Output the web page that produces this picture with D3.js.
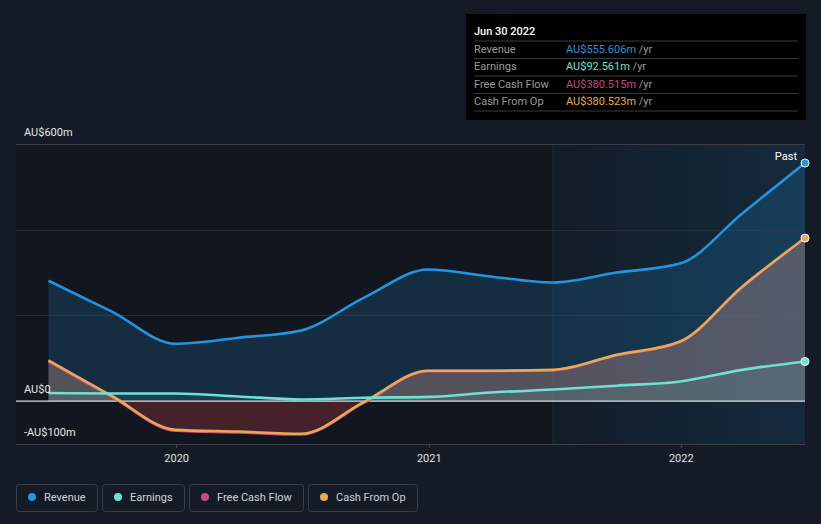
<!DOCTYPE html>
<html><head><meta charset="utf-8">
<script src="https://cdn.jsdelivr.net/npm/d3@7"></script>
<style>
html,body{margin:0;padding:0;background:#151b26;}
svg{display:block;font-family:Roboto,"Open Sans",sans-serif;}
</style></head>
<body>
<svg id="c" width="821" height="524"></svg>
<script>
const dates = ["2019-06-30","2019-09-30","2019-12-31","2020-03-31","2020-06-30","2020-09-30","2020-12-31","2021-03-31","2021-06-30","2021-09-30","2021-12-31","2022-03-31","2022-06-30"];
const revenue = [281, 209, 134, 148, 165, 242, 307, 291, 277, 300, 321, 438, 555.606];
const earnings = [19, 18, 18, 11, 4, 8, 10, 20, 27, 36, 46, 73, 92.561];
const freeCashFlow = [93, 10, -69, -73, -78, -3, 70, 70, 72, 107, 138, 266, 380.515];
const cashFromOp = [95, 12, -67, -71, -76, -1, 71, 71, 73, 108, 139, 267, 380.523];
const yTicks = [-100, 0, 200, 400, 600];
const yLabels = {"-100":"-AU$100m","0":"AU$0","600":"AU$600m"};
const xTicks = ["2020-01-01","2021-01-01","2022-01-01"];
const xTickLabels = ["2020","2021","2022"];
const seriesNames = ["Revenue","Earnings","Free Cash Flow","Cash From Op"];
const seriesColors = ["#2394df","#6fe1d2","#c8498a","#e9a856"];
const tooltipDate = "Jun 30 2022";
const tooltipValues = ["AU$555.606m","AU$92.561m","AU$380.515m","AU$380.523m"];
const highlightStart = "2021-06-30";

const parse = d3.timeParse("%Y-%m-%d");
const D = dates.map(parse);
const svg = d3.select("#c");
const x = d3.scaleTime().domain([new Date(2019,4,14), parse("2022-06-30")]).range([16,805]);
const y = d3.scaleLinear().domain([-100,600]).range([444,144]);
const defs = svg.append("defs");

// plot background
svg.append("rect").attr("x",16).attr("y",144).attr("width",789).attr("height",300).attr("fill","#12161e");
const hg = defs.append("linearGradient").attr("id","hg").attr("x1",0).attr("x2",1).attr("y1",0).attr("y2",0);
hg.append("stop").attr("offset",0).attr("stop-color","#2394df").attr("stop-opacity",0.05);
hg.append("stop").attr("offset",1).attr("stop-color","#2394df").attr("stop-opacity",0.16);
const hx = x(parse(highlightStart));
svg.append("rect").attr("x",hx).attr("y",144).attr("width",805-hx).attr("height",300).attr("fill","url(#hg)");
svg.append("line").attr("x1",hx).attr("x2",hx).attr("y1",144).attr("y2",444).attr("stroke","#1f2a38").attr("stroke-width",1);

// grid
yTicks.forEach(t=>{
  if(t===0) return;
  svg.append("line").attr("x1",16).attr("x2",805).attr("y1",Math.round(y(t))+0.5).attr("y2",Math.round(y(t))+0.5)
    .attr("stroke", (t===600||t===-100)?"#3a3f48":"#262b34").attr("stroke-width",1);
});

const curve = d3.curveMonotoneX;
const idx = d3.range(D.length);
const area = vals => d3.area().x(i=>x(D[i])).y0(y(0)).y1(i=>y(vals[i])).curve(curve)(idx);
const line = vals => d3.line().x(i=>x(D[i])).y(i=>y(vals[i])).curve(curve)(idx);

// clips
defs.append("clipPath").attr("id","above").append("rect").attr("x",0).attr("y",0).attr("width",821).attr("height",y(0));
defs.append("clipPath").attr("id","below").append("rect").attr("x",0).attr("y",y(0)).attr("width",821).attr("height",200);

// areas
svg.append("path").attr("d",area(revenue)).attr("fill","#2394df").attr("opacity",0.18);
svg.append("path").attr("d",area(cashFromOp)).attr("clip-path","url(#above)").attr("fill","#d39a8e").attr("opacity",0.33);
svg.append("path").attr("d",area(cashFromOp)).attr("clip-path","url(#below)").attr("fill","#be3d48").attr("opacity",0.3);
svg.append("path").attr("d",area(earnings)).attr("fill","#6fe1d2").attr("opacity",0.1);

// zero line
svg.append("line").attr("x1",16).attr("x2",805).attr("y1",y(0)).attr("y2",y(0)).attr("stroke","#d8dbe0").attr("stroke-width",1.2);

// lines
const valsArr = [revenue, earnings, freeCashFlow, cashFromOp];
[2,3,1,0].forEach(k=>{
  svg.append("path").attr("d",line(valsArr[k])).attr("fill","none").attr("stroke",seriesColors[k]).attr("stroke-width",2.6).attr("stroke-linejoin","round");
});
// end dots
[0,1,3].forEach(k=>{
  const n = D.length-1;
  svg.append("circle").attr("cx",x(D[n])).attr("cy",y(valsArr[k][n])).attr("r",4).attr("fill",seriesColors[k]).attr("stroke","#ffffff").attr("stroke-width",1);
});

// y labels
Object.keys(yLabels).forEach(k=>{
  svg.append("text").attr("x",24).attr("y",y(+k)-8).attr("fill","#e6e6e6").attr("font-size",11).text(yLabels[k]);
});

// x axis
const xa = svg.append("g").attr("transform","translate(0,444)")
  .call(d3.axisBottom(x).tickValues(xTicks.map(parse)).tickFormat((d,i)=>xTickLabels[i]).tickSize(4).tickPadding(6));
xa.select(".domain").remove();
xa.selectAll(".tick line").attr("stroke","#4a4f58");
xa.selectAll(".tick text").attr("fill","#e0e0e0").attr("font-size",11).attr("font-family","Roboto,sans-serif");

// Past label
svg.append("text").attr("x",797).attr("y",160).attr("text-anchor","end").attr("fill","#ffffff").attr("font-size",11).text("Past");

// tooltip
const tt = svg.append("g");
tt.append("rect").attr("x",466).attr("y",14).attr("width",340).attr("height",106).attr("fill","#000000");
tt.append("text").attr("x",474).attr("y",35).attr("fill","#ffffff").attr("font-size",11).attr("font-weight",500).text(tooltipDate);
const lineYs = [41, 58.5, 76, 93.5, 111];
lineYs.forEach(ly=>tt.append("line").attr("x1",474).attr("x2",798).attr("y1",ly).attr("y2",ly).attr("stroke","#3a3a3a").attr("stroke-width",1));
const rowYs = [53, 70, 88, 105];
seriesNames.forEach((n,i)=>{
  tt.append("text").attr("x",474).attr("y",rowYs[i]).attr("fill","#9a9a9a").attr("font-size",11).text(n);
  const t = tt.append("text").attr("x",566).attr("y",rowYs[i]).attr("font-size",11);
  t.append("tspan").attr("fill",seriesColors[i]).text(tooltipValues[i]);
  t.append("tspan").attr("fill","#9a9a9a").text(" /yr");
});

// legend
let lx = 16;
seriesNames.forEach((n,i)=>{
  const g = svg.append("g");
  const txt = g.append("text").attr("x",lx+28).attr("y",501).attr("fill","#d0d3d8").attr("font-size",11).text(n);
  const w = txt.node().getComputedTextLength();
  const bw = Math.round(28 + w + 11);
  g.insert("rect","text").attr("x",lx+0.5).attr("y",484.5).attr("width",bw).attr("height",27).attr("rx",3).attr("fill","none").attr("stroke","#3a404b");
  g.append("circle").attr("cx",lx+16).attr("cy",497).attr("r",4).attr("fill",seriesColors[i]);
  lx += bw + 5;
});
</script>
</body></html>
